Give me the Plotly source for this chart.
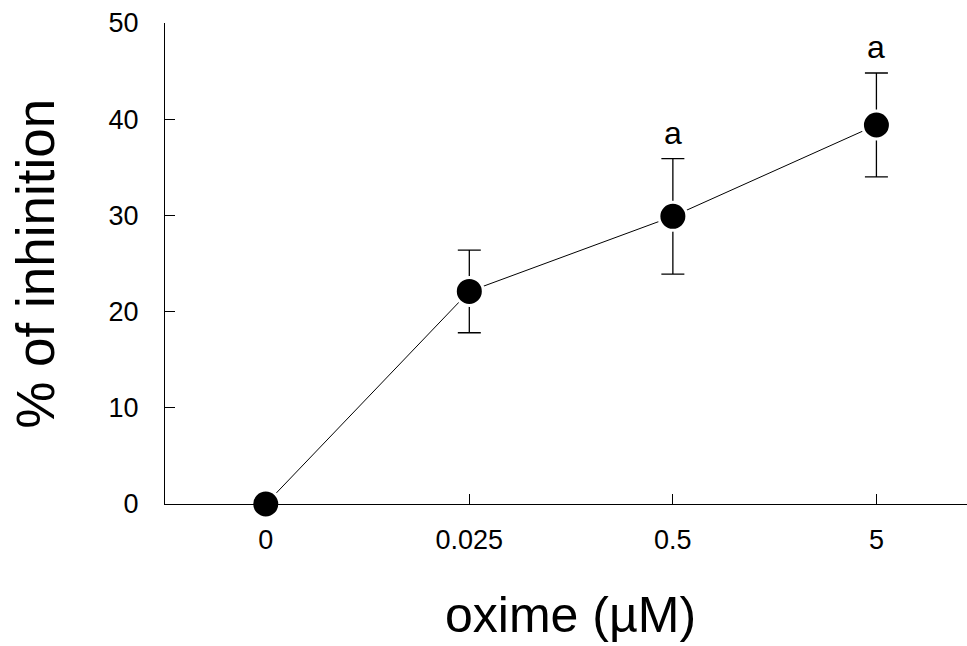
import plotly.graph_objects as go

categories = ["0", "0.025", "0.5", "5"]
inhibition = [0.0, 22.1, 29.9, 39.4]
sem = [0.0, 4.3, 6.0, 5.4]
labels = ["", "", "a", "a"]

x_idx = list(range(len(categories)))
FONT = "Arial, Liberation Sans, Helvetica, sans-serif"

fig = go.Figure()
fig.add_trace(go.Scatter(
    x=x_idx, y=inhibition,
    mode="lines+markers",
    line=dict(color="black", width=1),
    marker=dict(color="black", size=28, line=dict(color="white", width=3)),
    error_y=dict(type="data", array=sem, visible=True, color="black",
                 thickness=1.3, width=11.5),
    cliponaxis=False,
    showlegend=False,
))

for xi, yv, e, lab in zip(x_idx, inhibition, sem, labels):
    if lab:
        fig.add_annotation(x=xi, y=yv + e, text=lab, showarrow=False,
                           yanchor="bottom", yshift=6,
                           font=dict(family=FONT, size=32, color="black"))

fig.add_annotation(xref="paper", yref="paper", x=0.505, y=-0.23,
                   xanchor="center", yanchor="middle",
                   text="oxime (µM)", showarrow=False,
                   font=dict(family=FONT, size=50, color="black"))
fig.add_annotation(xref="paper", yref="paper", x=-0.161, y=0.499,
                   xanchor="center", yanchor="middle",
                   text="% of inhinition", showarrow=False, textangle=-90,
                   font=dict(family=FONT, size=53, color="black"))

fig.update_layout(
    width=967, height=646,
    margin=dict(l=165, r=0, t=23, b=142),
    plot_bgcolor="white", paper_bgcolor="white",
    font=dict(family=FONT, color="black"),
    xaxis=dict(
        range=[-0.495, 3.445],
        tickmode="array", tickvals=x_idx, ticktext=categories,
        ticks="inside", ticklen=10, tickwidth=1.3, tickcolor="black",
        showline=True, linecolor="black", linewidth=1.3,
        showgrid=False, zeroline=False,
        tickfont=dict(family=FONT, size=27, color="black"),
        ticklabelstandoff=11,
    ),
    yaxis=dict(
        range=[0, 50],
        tickvals=[0, 10, 20, 30, 40, 50],
        ticks="inside", ticklen=10, tickwidth=1.3, tickcolor="black",
        showline=True, linecolor="black", linewidth=1.3,
        showgrid=False, zeroline=False,
        tickfont=dict(family=FONT, size=27, color="black"),
        ticklabelstandoff=20,
    ),
)

fig.write_html("out.html")
